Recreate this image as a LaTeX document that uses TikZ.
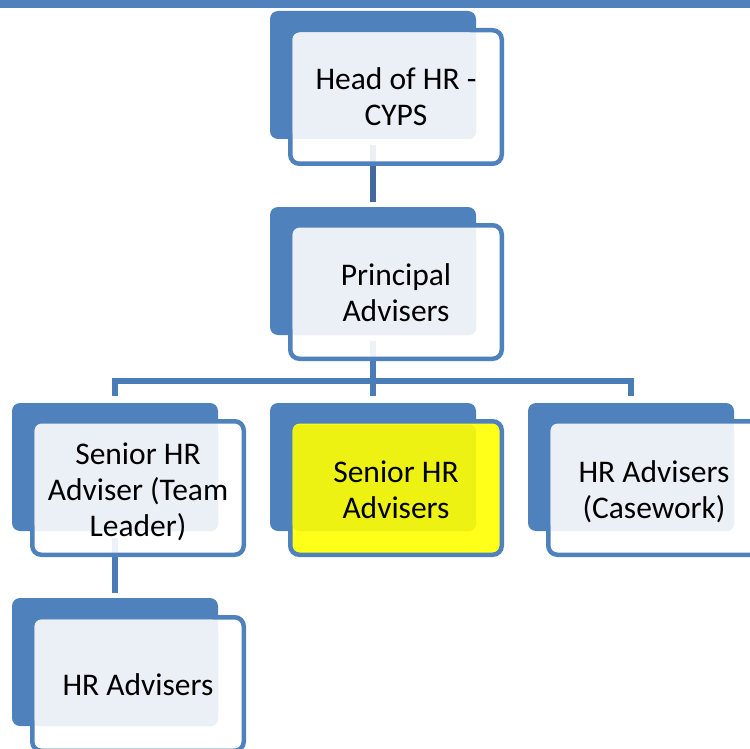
\documentclass[tikz,border=0pt]{standalone}
\usepackage{fontspec}
\setmainfont{Carlito}
\definecolor{obl}{HTML}{4F81BD}
\definecolor{conn}{HTML}{4A7CB8}
\definecolor{connD}{HTML}{41699D}
\definecolor{lite}{HTML}{EBF0F7}
\definecolor{yel}{HTML}{FFFF1A}
\definecolor{yelD}{HTML}{EEF213}
\tikzset{
  backbox/.style={fill=obl, draw=none, rounded corners=8pt, minimum width=206pt, minimum height=128pt, inner sep=0pt, outer sep=0pt, anchor=north west},
  frontbox/.style={draw=obl, line width=4.5pt, fill=white, fill opacity=0.9, rounded corners=9pt, minimum width=211.5pt, minimum height=133.5pt, inner sep=0pt, outer sep=0pt},
  litebox/.style={fill=lite, draw=none, rounded corners=7pt, minimum width=183.5pt, minimum height=106.5pt, inner sep=0pt, outer sep=0pt, anchor=south east},
  label/.style={align=center, text=black, font=\fontsize{31.5}{36}\selectfont, inner sep=0pt},
  conn/.style={draw=conn, line width=5.5pt, line join=miter},
  connd/.style={draw=connD, line width=5.5pt}
}
\begin{document}
\begin{tikzpicture}[x=1pt,y=-1pt]
\useasboundingbox (0,0) rectangle (750,749);
\clip (0,0) rectangle (750,749);
\fill[obl] (0,0) rectangle (750,8);
% back boxes
\node[backbox] (hB) at (270,11) {};
\node[backbox] (pB) at (270,207) {};
\node[backbox] (lB) at (12,403) {};
\node[backbox] (mB) at (270,403) {};
\node[backbox] (rB) at (528,403) {};
\node[backbox] (bB) at (12,598) {};
% connectors
\draw[connd] ([yshift=-6pt]hB.south) -- ([yshift=5pt]pB.north);
\draw[conn] ([yshift=-6pt]pB.south) -- ([yshift=7pt]mB.north);
\draw[conn] ([yshift=7pt]lB.north) -- ([yshift=22pt]lB.north) -- ([yshift=22pt]rB.north) -- ([yshift=7pt]rB.north);
\draw[conn] ([yshift=-7pt]lB.south) -- ([yshift=5pt]bB.north);
% front boxes
\node[frontbox, anchor=north west] (h) at (290.25,30.25) {};
\node[frontbox, anchor=north west] (p) at (290.25,225.25) {};
\node[frontbox, anchor=north west] (l) at (32.25,421.25) {};
\node[frontbox, anchor=north west, fill=yel, fill opacity=1] (m) at (290.25,421.25) {};
\node[frontbox, anchor=north west] (r) at (548.25,421.25) {};
\node[frontbox, anchor=north west] (b) at (32.25,617.25) {};
% light overlays
\node[litebox] (hL) at (hB.south east) {};
\node[litebox] (pL) at (pB.south east) {};
\node[litebox] (lL) at (lB.south east) {};
\node[litebox, fill=yelD] (mL) at (mB.south east) {};
\node[litebox] (rL) at (rB.south east) {};
\node[litebox] (bL) at (bB.south east) {};
% texts
\node[label] (hT) at (h.center) {Head of HR -\\CYPS};
\node[label, yshift=-1pt] (pT) at (p.center) {Principal\\Advisers};
\node[label, yshift=-4pt] (lT) at (l.center) {Senior HR\\Adviser (Team\\Leader)};
\node[label, yshift=-1.5pt] (mT) at (m.center) {Senior HR\\Advisers};
\node[label, yshift=-4pt] (rT) at (r.center) {HR Advisers\\(Casework)};
\node[label, yshift=-1pt] (bT) at (b.center) {HR Advisers};
\end{tikzpicture}
\end{document}
